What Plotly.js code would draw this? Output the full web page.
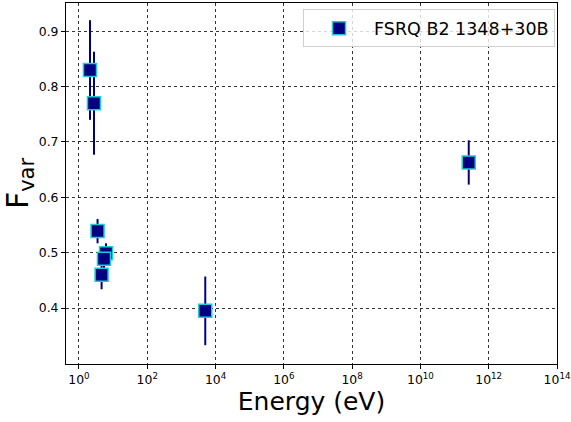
<!DOCTYPE html>
<html>
<head>
<meta charset="utf-8">
<script src="https://cdn.plot.ly/plotly-3.0.1.min.js"></script>
<style>html,body{margin:0;padding:0;background:#fff;}#chart{width:571px;height:422px;}</style>
</head>
<body>
<div id="chart"></div>
<script>
const seriesName = "FSRQ B2 1348+30B";
const energy = [2.1, 2.75, 3.5, 6.2, 5.4, 4.6, 5000, 2.6e11];
const fvar = [0.830, 0.770, 0.539, 0.499, 0.489, 0.460, 0.395, 0.663];
const fvarErr = [0.090, 0.093, 0.022, 0.018, 0.020, 0.026, 0.062, 0.040];
const xTickVals = [1, 1e2, 1e4, 1e6, 1e8, 1e10, 1e12, 1e14];
const xTickText = ["10<sup>0</sup>", "10<sup>2</sup>", "10<sup>4</sup>", "10<sup>6</sup>", "10<sup>8</sup>", "10<sup>10</sup>", "10<sup>12</sup>", "10<sup>14</sup>"];
const yTickVals = [0.4, 0.5, 0.6, 0.7, 0.8, 0.9];
const yTickText = ["0.4", "0.5", "0.6", "0.7", "0.8", "0.9"];

const trace = {
  x: energy, y: fvar, type: "scatter", mode: "markers", name: seriesName,
  error_y: {type: "data", array: fvarErr, visible: true, color: "#000080", thickness: 2, width: 0},
  marker: {symbol: "square", size: 13, color: "#000080", line: {color: "#1ccdd2", width: 1.5}}
};
const font = {family: "DejaVu Sans", color: "#000"};
const layout = {
  width: 571, height: 422,
  margin: {l: 66, r: 14, t: 3, b: 58},
  paper_bgcolor: "#fff", plot_bgcolor: "#fff",
  font: Object.assign({size: 12}, font),
  showlegend: true,
  legend: {x: 0.996, y: 0.982, xanchor: "right", yanchor: "top", itemwidth: 60, bordercolor: "#d0d0d0", borderwidth: 1, bgcolor: "rgba(255,255,255,0.8)", font: {family: "DejaVu Sans", size: 17.5, color: "#000"}},
  xaxis: {
    type: "log", range: [-0.38, 14], tickvals: xTickVals, ticktext: xTickText,
    showline: true, linecolor: "#000", linewidth: 1, mirror: true,
    ticks: "outside", ticklen: 4, tickcolor: "#000",
    showgrid: true, gridcolor: "#000", griddash: "dot", gridwidth: 0.8, zeroline: false,
    tickfont: {size: 12.4},
    title: {text: "Energy (eV)", font: {size: 25}, standoff: 6}
  },
  yaxis: {
    range: [0.299, 0.951], tickvals: yTickVals, ticktext: yTickText,
    showline: true, linecolor: "#000", linewidth: 1, mirror: true,
    ticks: "outside", ticklen: 4, tickcolor: "#000",
    showgrid: true, gridcolor: "#000", griddash: "dot", gridwidth: 0.8, zeroline: false,
    tickfont: {size: 12.4},
    title: {text: "F<sub>var</sub>", font: {size: 30}, standoff: 8}
  }
};
Plotly.newPlot("chart", [trace], layout, {displayModeBar: false, staticPlot: true});
</script>
</body>
</html>
